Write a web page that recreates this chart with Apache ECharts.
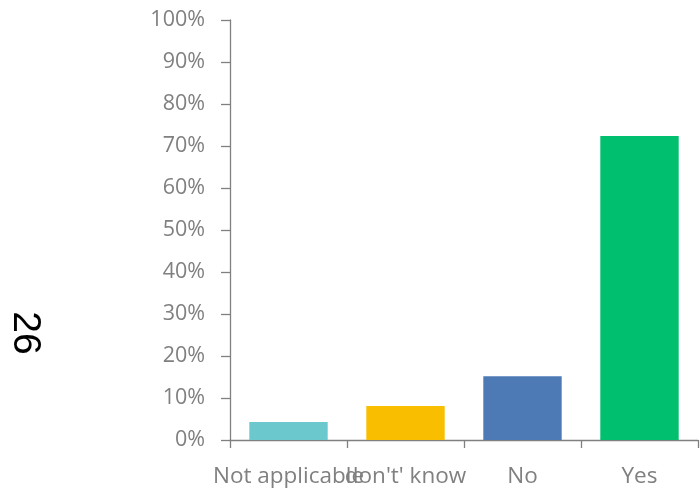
<!DOCTYPE html>
<html><head><meta charset="utf-8">
<script src="https://cdn.jsdelivr.net/npm/echarts@6/dist/echarts.min.js"></script>
<style>html,body{margin:0;padding:0;background:#fff}#c{width:700px;height:489px}</style>
</head><body><div id="c"></div>
<script>
const categories = ["Not applicable", "don't' know", "No", "Yes"];
const values = [0.043, 0.081, 0.152, 0.724];
const colors = ["#6BC8CC", "#F9BE00", "#4D7AB5", "#00BF6F"];
const sideLabel = "26";

const chart = echarts.init(document.getElementById('c'));
chart.setOption({
  animation: false,
  grid: { left: 230, right: 2, top: 20, bottom: 49 },
  xAxis: {
    type: 'category', data: categories,
    axisLine: { lineStyle: { color: '#808080', width: 1.3 } },
    axisTick: { show: true, length: 8, lineStyle: { color: '#808080', width: 1.3 } },
    axisLabel: { interval: 0, color: '#808080', fontSize: 22.5, fontFamily: 'Open Sans', margin: 25 }
  },
  yAxis: {
    type: 'value', min: 0, max: 1, interval: 0.1,
    splitLine: { show: false },
    axisLine: { show: true, lineStyle: { color: '#808080', width: 1.3 } },
    axisTick: { show: true, length: 9, lineStyle: { color: '#808080', width: 1.3 } },
    axisLabel: { color: '#808080', fontSize: 21.5, fontFamily: 'Open Sans', margin: 25,
      formatter: v => Math.round(v * 100) + '%' }
  },
  series: [{
    type: 'bar', barWidth: '67%',
    data: values.map((v, i) => ({ value: v, itemStyle: { color: colors[i] } }))
  }],
  graphic: [{
    type: 'text', x: 25, y: 333, rotation: -Math.PI / 2,
    style: { text: sideLabel, fontSize: 39, fontFamily: 'Liberation Sans', fill: '#000', align: 'center', verticalAlign: 'middle' }
  }]
});
</script></body></html>
